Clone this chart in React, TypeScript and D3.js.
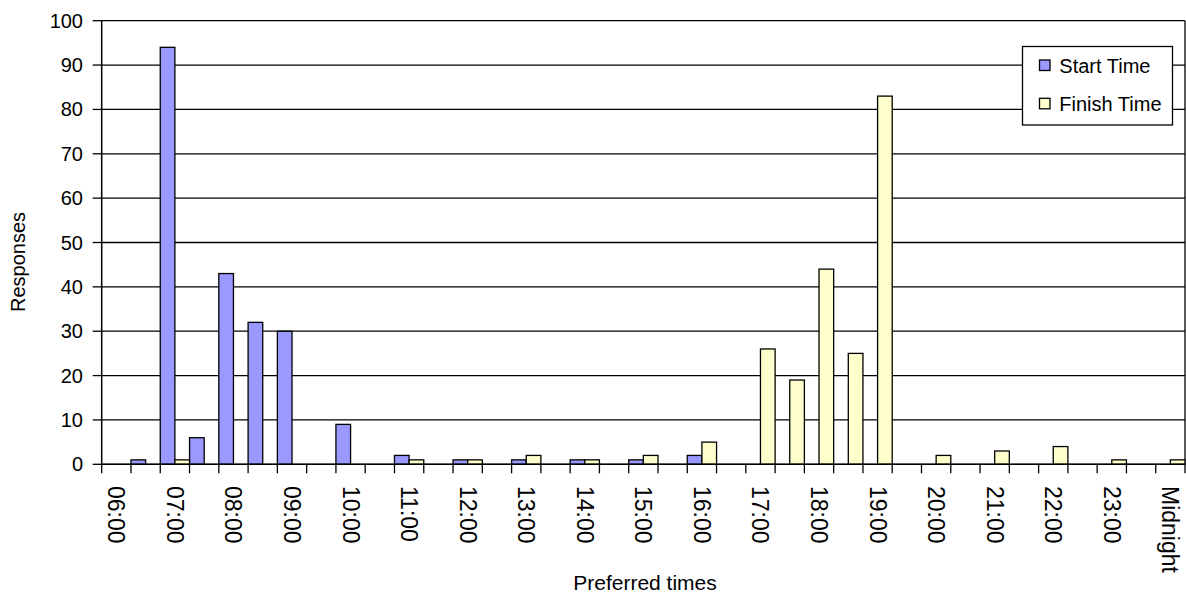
import React from "react";
import * as d3 from "d3";

const categories = [
  "06:00", "06:30", "07:00", "07:30", "08:00", "08:30", "09:00", "09:30",
  "10:00", "10:30", "11:00", "11:30", "12:00", "12:30", "13:00", "13:30",
  "14:00", "14:30", "15:00", "15:30", "16:00", "16:30", "17:00", "17:30",
  "18:00", "18:30", "19:00", "19:30", "20:00", "20:30", "21:00", "21:30",
  "22:00", "22:30", "23:00", "23:30", "Midnight",
];

const startTime = [
  0, 1, 94, 6, 43, 32, 30, 0, 9, 0, 2, 0, 1, 0, 1, 0, 1, 0, 1, 0, 2,
  0, 0, 0, 0, 0, 0, 0, 0, 0, 0, 0, 0, 0, 0, 0, 0,
];

const finishTime = [
  0, 0, 1, 0, 0, 0, 0, 0, 0, 0, 1, 0, 1, 0, 2, 0, 1, 0, 2, 0, 5,
  0, 26, 19, 44, 25, 83, 0, 2, 0, 3, 0, 4, 0, 1, 0, 1,
];

const yTicks = [0, 10, 20, 30, 40, 50, 60, 70, 80, 90, 100];

const seriesNames = ["Start Time", "Finish Time"];
const seriesColors = ["#9999FF", "#FFFFCC"];

const W = 1186;
const H = 596;
const FONT = "'Liberation Sans', Arial, sans-serif";

export default function App() {
  const left = 101.7;
  const right = 1185;
  const top = 20.7;
  const bottom = 464.3;

  const x = d3.scaleBand<string>().domain(categories).range([left, right]).padding(0);
  const inner = d3.scaleBand<string>().domain(seriesNames).range([0, x.bandwidth()]).padding(0);
  const y = d3.scaleLinear().domain([0, 100]).range([bottom, top]);

  const series = [startTime, finishTime];

  return (
    <svg
      width={W}
      height={H}
      style={{ position: "absolute", left: 0, top: 0, background: "#fff" }}
      fontFamily={FONT}
    >
      <rect x={0} y={0} width={W} height={H} fill="#fff" />
      {/* gridlines */}
      {yTicks.map((t) => (
        <line key={"g" + t} x1={left} x2={right} y1={y(t)} y2={y(t)} stroke="#000" strokeWidth={1.3} />
      ))}
      {/* right border */}
      <line x1={right} x2={right} y1={top} y2={bottom} stroke="#000" strokeWidth={1.3} />
      {/* bars */}
      {series.map((vals, si) =>
        vals.map((v, i) =>
          v > 0 ? (
            <rect
              key={si + "-" + i}
              x={(x(categories[i]) as number) + (inner(seriesNames[si]) as number)}
              y={y(v)}
              width={inner.bandwidth()}
              height={y(0) - y(v)}
              fill={seriesColors[si]}
              stroke="#000"
              strokeWidth={1.3}
            />
          ) : null
        )
      )}
      {/* axes */}
      <line x1={left} x2={left} y1={top} y2={bottom} stroke="#000" strokeWidth={1.5} />
      <line x1={left} x2={right} y1={bottom} y2={bottom} stroke="#000" strokeWidth={1.5} />
      {yTicks.map((t) => (
        <g key={"yt" + t}>
          <line x1={left - 9} x2={left} y1={y(t)} y2={y(t)} stroke="#000" strokeWidth={1.3} />
          <text x={83} y={y(t)} textAnchor="end" dominantBaseline="central" fontSize={20} fill="#000">
            {t}
          </text>
        </g>
      ))}
      {categories.map((c, i) => (
        <line
          key={"xt" + i}
          x1={x(c) as number}
          x2={x(c) as number}
          y1={bottom}
          y2={bottom + 9}
          stroke="#000"
          strokeWidth={1.3}
        />
      ))}
      <line x1={right} x2={right} y1={bottom} y2={bottom + 9} stroke="#000" strokeWidth={1.3} />
      {categories.map((c, i) =>
        i % 2 === 0 ? (
          <text
            key={"xl" + i}
            transform={`translate(${(x(c) as number) + x.bandwidth() / 2},486) rotate(90)`}
            textAnchor="start"
            dominantBaseline="central"
            fontSize={23}
            fill="#000"
          >
            {c}
          </text>
        ) : null
      )}
      {/* axis titles */}
      <text x={645} y={590} textAnchor="middle" fontSize={21} fill="#000">
        Preferred times
      </text>
      <text
        transform={`translate(25,262) rotate(-90)`}
        textAnchor="middle"
        fontSize={20}
        fill="#000"
      >
        Responses
      </text>
      {/* legend */}
      <g>
        <rect x={1022.5} y={46.5} width={150} height={78.5} fill="#fff" stroke="#000" strokeWidth={1.3} />
        {seriesNames.map((n, i) => (
          <g key={n}>
            <rect
              x={1039.5}
              y={60 + i * 38.3}
              width={10.5}
              height={10.5}
              fill={seriesColors[i]}
              stroke="#000"
              strokeWidth={1.3}
            />
            <text x={1059.3} y={73 + i * 38.3} fontSize={20} fill="#000">
              {n}
            </text>
          </g>
        ))}
      </g>
    </svg>
  );
}
